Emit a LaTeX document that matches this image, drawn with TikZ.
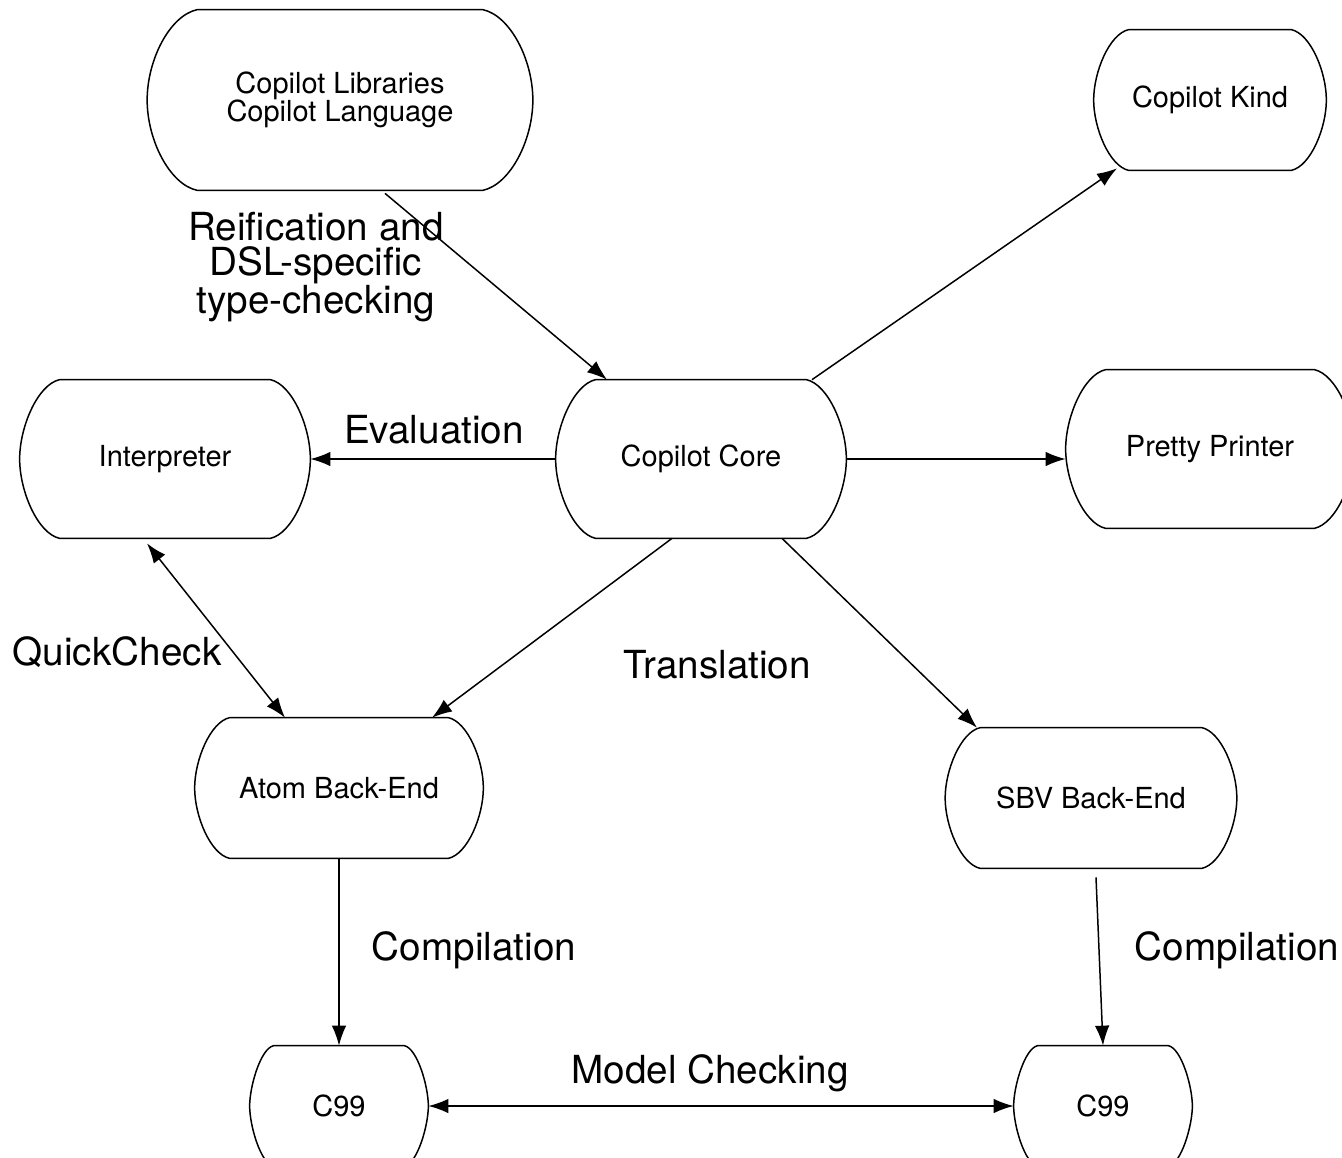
\documentclass[tikz,border=0pt]{standalone}
\usepackage{fontspec}
\setmainfont{TeX Gyre Heros}
\usetikzlibrary{arrows.meta}

% outline with bulging sides round a named block
\newcommand{\capsule}[2]{%
  \draw[line width=0.85pt] ([xshift=#2]#1.north west) -- ([xshift=-#2]#1.north east)
    .. controls ([xshift=-0.45*#2,yshift=-0.12*#2]#1.north east) and ([yshift=0.8*#2]#1.east) .. (#1.east)
    .. controls ([yshift=-0.8*#2]#1.east) and ([xshift=-0.45*#2,yshift=0.12*#2]#1.south east) .. ([xshift=-#2]#1.south east)
    -- ([xshift=#2]#1.south west)
    .. controls ([xshift=0.45*#2,yshift=0.12*#2]#1.south west) and ([yshift=-0.8*#2]#1.west) .. (#1.west)
    .. controls ([yshift=0.8*#2]#1.west) and ([xshift=0.45*#2,yshift=-0.12*#2]#1.north west) .. cycle;}

\begin{document}
\begin{tikzpicture}[
  block/.style={rectangle, inner sep=0pt, align=center, font=\fontsize{16.5}{16}\selectfont},
  lbl/.style={align=center, font=\fontsize{22}{20}\selectfont},
  link/.style={line width=0.85pt, -{Latex[length=0.4cm,width=0.29cm]}},
  biglink/.style={line width=0.85pt, {Latex[length=0.4cm,width=0.29cm]}-{Latex[length=0.4cm,width=0.29cm]}}
]
\useasboundingbox (0,0) rectangle (26.84,-23.14);

% blocks
\node[block, minimum width=7.7cm, minimum height=3.6cm] (libs) at (6.8,-2.0) {Copilot Libraries\\Copilot Language};
\node[block, minimum width=4.64cm, minimum height=2.8cm] (kind) at (24.2,-2.0) {Copilot Kind};
\node[block, minimum width=5.8cm, minimum height=3.16cm] (interp) at (3.3,-9.18) {Interpreter};
\node[block, minimum width=5.8cm, minimum height=3.16cm] (core) at (14.02,-9.18) {Copilot Core};
\node[block, minimum width=5.76cm, minimum height=3.16cm] (pretty) at (24.2,-8.98) {Pretty Printer};
\node[block, minimum width=5.76cm, minimum height=2.8cm] (atom) at (6.78,-15.76) {Atom Back-End};
\node[block, minimum width=5.82cm, minimum height=2.8cm] (sbv) at (21.82,-15.96) {SBV Back-End};
\node[block, minimum width=3.56cm, minimum height=2.4cm] (c99l) at (6.78,-22.12) {C99};
\node[block, minimum width=3.56cm, minimum height=2.4cm] (c99r) at (22.06,-22.12) {C99};

\capsule{libs}{1.0cm}
\capsule{kind}{0.7cm}
\capsule{interp}{0.8cm}
\capsule{core}{0.8cm}
\capsule{pretty}{0.8cm}
\capsule{atom}{0.7cm}
\capsule{sbv}{0.7cm}
\capsule{c99l}{0.48cm}
\capsule{c99r}{0.48cm}

% labels
\node[lbl] (reif) at (6.32,-5.34) {Reification and\\DSL-specific\\type-checking};
\node[lbl] (eval) at (8.68,-8.6) {Evaluation};
\node[lbl] (trans) at (14.34,-13.3) {Translation};
\node[lbl] (qc) at (2.34,-13.04) {QuickCheck};
\node[lbl] (compl) at (9.48,-19.0) {Compilation};
\node[lbl] (compr) at (24.74,-19.0) {Compilation};
\node[lbl] (mc) at (14.2,-21.46) {Model Checking};

% connectors
\draw[link] ([xshift=0.9cm,yshift=-0.06cm]libs.south) -- ([xshift=-1.88cm]core.north);
\draw[link] ([xshift=2.22cm]core.north) -- ([xshift=-1.86cm,yshift=0.04cm]kind.south);
\draw[link] (core.west) -- (interp.east);
\draw[link] (core.east) -- (core.east -| pretty.west);
\draw[link] ([xshift=-0.58cm]core.south) -- ([xshift=1.86cm]atom.north);
\draw[link] ([xshift=1.62cm]core.south) -- ([xshift=-2.28cm]sbv.north);
\draw[biglink] ([xshift=-0.36cm,yshift=-0.1cm]interp.south) -- ([xshift=-1.08cm]atom.north);
\draw[link] (atom.south) -- (c99l.north);
\draw[link] ([xshift=0.1cm,yshift=-0.18cm]sbv.south) -- (c99r.north);
\draw[biglink] (c99l.east) -- (c99r.west);

\end{tikzpicture}
\end{document}
